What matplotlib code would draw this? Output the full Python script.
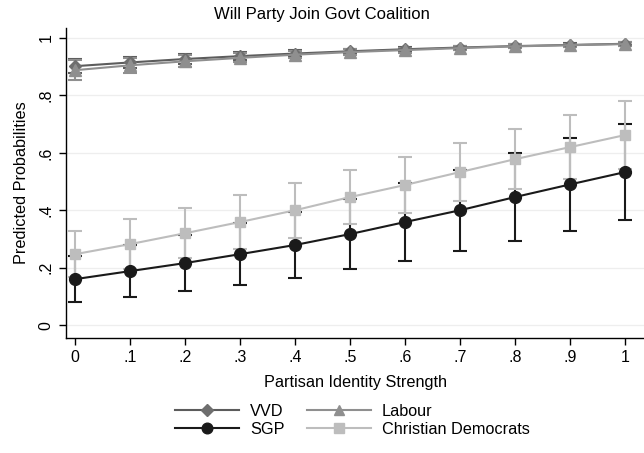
import matplotlib
matplotlib.use("Agg")
import matplotlib.pyplot as plt
from matplotlib.lines import Line2D

# Partisan identity strength grid
strength = [0.0, 0.1, 0.2, 0.3, 0.4, 0.5, 0.6, 0.7, 0.8, 0.9, 1.0]
x_ticklabels = ["0", ".1", ".2", ".3", ".4", ".5", ".6", ".7", ".8", ".9", "1"]
y_ticks = [0, 0.2, 0.4, 0.6, 0.8, 1.0]
y_ticklabels = ["0", ".2", ".4", ".6", ".8", "1"]

# Predicted probabilities with 95% confidence bounds
vvd = [0.902, 0.915, 0.927, 0.937, 0.946, 0.954, 0.961, 0.967, 0.972, 0.976, 0.980]
vvd_lo = [0.877, 0.895, 0.911, 0.924, 0.935, 0.945, 0.953, 0.960, 0.966, 0.970, 0.974]
vvd_hi = [0.927, 0.935, 0.943, 0.950, 0.957, 0.963, 0.969, 0.974, 0.978, 0.982, 0.986]

labour = [0.888, 0.905, 0.919, 0.931, 0.942, 0.951, 0.958, 0.965, 0.971, 0.975, 0.979]
labour_lo = [0.853, 0.878, 0.898, 0.915, 0.929, 0.940, 0.949, 0.957, 0.964, 0.969, 0.973]
labour_hi = [0.923, 0.932, 0.940, 0.947, 0.955, 0.962, 0.967, 0.973, 0.978, 0.981, 0.985]

sgp = [0.160, 0.188, 0.216, 0.247, 0.279, 0.317, 0.359, 0.400, 0.446, 0.490, 0.533]
sgp_lo = [0.080, 0.098, 0.118, 0.139, 0.164, 0.195, 0.223, 0.258, 0.293, 0.328, 0.366]
sgp_hi = [0.240, 0.278, 0.314, 0.355, 0.394, 0.439, 0.495, 0.542, 0.599, 0.652, 0.700]

cd = [0.247, 0.282, 0.320, 0.359, 0.400, 0.446, 0.488, 0.533, 0.578, 0.620, 0.662]
cd_lo = [0.166, 0.195, 0.232, 0.265, 0.305, 0.352, 0.391, 0.432, 0.473, 0.508, 0.544]
cd_hi = [0.328, 0.369, 0.408, 0.453, 0.495, 0.540, 0.585, 0.634, 0.683, 0.732, 0.780]

series = [
    ("VVD", vvd, vvd_lo, vvd_hi, "#5c5c5c", "#6e6e6e", "D", 6.5),
    ("Labour", labour, labour_lo, labour_hi, "#8f8f8f", "#8f8f8f", "^", 8),
    ("SGP", sgp, sgp_lo, sgp_hi, "#1a1a1a", "#1a1a1a", "o", 8.5),
    ("Christian Democrats", cd, cd_lo, cd_hi, "#bdbdbd", "#bdbdbd", "s", 7.5),
]

plt.rcParams["font.family"] = ["Liberation Sans", "DejaVu Sans"]

fig = plt.figure(figsize=(6.44, 4.53), dpi=100)
ax = fig.add_axes([66 / 644, 1 - 338 / 453, 1 - 66 / 644, (338 - 28) / 453])

for i, (name, y, lo, hi, lc, mc, mk, ms) in enumerate(series):
    ax.vlines(strength, lo, hi, color=lc, lw=1.5, zorder=2 + i)
    ax.plot(strength, lo, ls="none", marker="_", ms=10, mew=1.5, color=lc, zorder=2 + i)
    ax.plot(strength, hi, ls="none", marker="_", ms=10, mew=1.5, color=lc, zorder=2 + i)
    ax.plot(strength, y, color=lc, lw=1.5, marker=mk, ms=ms, mfc=mc, mec=mc, zorder=6 + i)

ax.set_xlim(-0.0164, 1.0345)
ax.set_ylim(-0.045, 1.035)
ax.set_xticks(strength)
ax.set_xticklabels(x_ticklabels)
ax.set_yticks(y_ticks)
ax.set_yticklabels(y_ticklabels, rotation=90, va="center")
ax.tick_params(direction="out", length=5, width=1, labelsize=11.5, pad=4, colors="black")
ax.grid(axis="y", color="#eeeeee", lw=0.9, zorder=0)
ax.set_axisbelow(True)
for s in ("top", "right"):
    ax.spines[s].set_visible(False)
for s in ("left", "bottom"):
    ax.spines[s].set_linewidth(1.0)

ax.set_xlabel("Partisan Identity Strength", fontsize=11.7, labelpad=7)
ax.set_ylabel("Predicted Probabilities", fontsize=11.7, labelpad=7)
fig.text(0.5, 1 - 14 / 453, "Will Party Join Govt Coalition", ha="center", va="center", fontsize=12)

handles = [
    Line2D([], [], color=lc, lw=1.5, marker=mk, ms=ms * 0.9, mfc=mc, mec=mc)
    for (name, y, lo, hi, lc, mc, mk, ms) in series
]
order = [0, 2, 1, 3]
fig.legend([handles[i] for i in order], [series[i][0] for i in order], ncol=2,
           loc="center", bbox_to_anchor=(352.5 / 644, 1 - 420.5 / 453), frameon=False,
           fontsize=11.7, handlelength=3.9, columnspacing=1.4, handletextpad=0.7,
           labelspacing=0.2, borderpad=0.2)

fig.savefig("out.png", dpi=100)
